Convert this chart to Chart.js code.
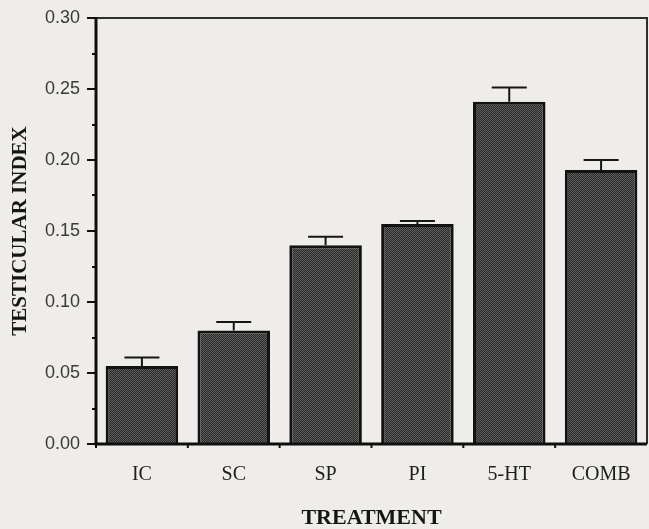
<!DOCTYPE html>
<html>
<head>
<meta charset="utf-8">
<script src="https://cdn.jsdelivr.net/npm/chart.js@4.4.1/dist/chart.umd.min.js"></script>
<style>
  html, body { margin: 0; padding: 0; background: #efede9; }
  #wrap { width: 649px; height: 529px; position: relative; }
</style>
</head>
<body>
<div id="wrap"><canvas id="chart"></canvas></div>
<script>
// Testicular index by treatment group (mean with upper error bar)
const categories = ['IC', 'SC', 'SP', 'PI', '5-HT', 'COMB'];
const meanIndex = [0.055, 0.080, 0.140, 0.155, 0.241, 0.193];
const errIndex = [0.006, 0.006, 0.006, 0.002, 0.010, 0.007];
const yTicks = [0.00, 0.05, 0.10, 0.15, 0.20, 0.25, 0.30];
const yMinorStep = 0.025;

// stippled dark fill for the bars
function stipple() {
  const c = document.createElement('canvas');
  c.width = 2; c.height = 2;
  const g = c.getContext('2d');
  g.fillStyle = '#282828'; g.fillRect(0, 0, 2, 2);
  g.fillStyle = '#606060'; g.fillRect(0, 0, 1, 1); g.fillRect(1, 1, 1, 1);
  return g.createPattern(c, 'repeat');
}

const background = {
  id: 'background',
  beforeDraw(chart) {
    const ctx = chart.ctx;
    ctx.save();
    ctx.fillStyle = '#efede9';
    ctx.fillRect(0, 0, chart.width, chart.height);
    ctx.restore();
  }
};

// frame, axis lines and tick marks
const frame = {
  id: 'frame',
  afterDatasetsDraw(chart) {
    const {ctx, chartArea: a, scales: {x, y}} = chart;
    ctx.save();
    // top and right border
    ctx.strokeStyle = '#2e2e2e';
    ctx.lineWidth = 2;
    ctx.beginPath();
    ctx.moveTo(a.left, a.top); ctx.lineTo(a.right, a.top); ctx.lineTo(a.right, a.bottom);
    ctx.stroke();
    // y tick marks: major outward, minor short
    ctx.strokeStyle = '#111';
    ctx.lineWidth = 2;
    const max = y.max;
    for (let v = 0; v <= max + 1e-9; v += yMinorStep) {
      const py = Math.round(y.getPixelForValue(v));
      const major = Math.abs(v / 0.05 - Math.round(v / 0.05)) < 1e-6;
      ctx.beginPath();
      ctx.moveTo(a.left, py);
      ctx.lineTo(a.left - (major ? 9 : 4), py);
      ctx.stroke();
    }
    // x tick marks between categories
    for (let i = 0; i <= categories.length - 1; i++) {
      const px = i === 0 ? a.left : (x.getPixelForTick(i - 1) + x.getPixelForTick(i)) / 2;
      ctx.beginPath();
      ctx.moveTo(px, a.bottom);
      ctx.lineTo(px, a.bottom + 4);
      ctx.stroke();
    }
    // left and bottom axis lines
    ctx.strokeStyle = '#0e0e0e';
    ctx.lineWidth = 3;
    ctx.beginPath();
    ctx.moveTo(a.left, a.top - 1); ctx.lineTo(a.left, a.bottom);
    ctx.lineTo(a.right, a.bottom);
    ctx.stroke();
    ctx.restore();
  }
};

// upper error bars
const errorBars = {
  id: 'errorBars',
  afterDatasetsDraw(chart) {
    const {ctx, scales: {y}} = chart;
    const meta = chart.getDatasetMeta(0);
    ctx.save();
    ctx.strokeStyle = '#161616';
    ctx.lineWidth = 2;
    meta.data.forEach((bar, i) => {
      const top = y.getPixelForValue(meanIndex[i]);
      const cap = y.getPixelForValue(meanIndex[i] + errIndex[i]);
      ctx.beginPath();
      ctx.moveTo(bar.x, top);
      ctx.lineTo(bar.x, cap);
      ctx.moveTo(bar.x - 17.5, cap);
      ctx.lineTo(bar.x + 17.5, cap);
      ctx.stroke();
    });
    ctx.restore();
  }
};

new Chart(document.getElementById('chart'), {
  type: 'bar',
  data: {
    labels: categories,
    datasets: [{
      data: meanIndex,
      backgroundColor: stipple(),
      borderColor: '#121212',
      borderWidth: 3,
      borderSkipped: 'bottom',
      barPercentage: 0.79,
      categoryPercentage: 1.0
    }]
  },
  options: {
    responsive: true,
    maintainAspectRatio: false,
    animation: false,
    layout: { padding: { top: 18, right: 2, left: 0, bottom: 0 } },
    plugins: { legend: { display: false }, tooltip: { enabled: false } },
    scales: {
      x: {
        grid: { display: false, drawTicks: false },
        border: { display: false },
        ticks: {
          color: '#1e1e1e',
          padding: 19,
          font: { family: '"Liberation Serif", "Times New Roman", serif', size: 20 }
        },
        title: {
          display: true,
          text: 'TREATMENT',
          color: '#151515',
          padding: { top: 0, bottom: 0 },
          font: { family: '"Liberation Serif", "Times New Roman", serif', size: 22, weight: 'bold', lineHeight: 1 }
        },
        afterFit(scale) {
          scale.height = 85;
          scale.paddingLeft = 0; scale.paddingRight = 0;
        }
      },
      y: {
        min: 0,
        max: 0.30,
        grid: { display: false, drawTicks: false },
        border: { display: false },
        afterBuildTicks(scale) { scale.ticks = yTicks.map(v => ({ value: v })); },
        ticks: {
          color: '#3a3a3a',
          padding: 16,
          font: { family: '"Liberation Sans", Arial, sans-serif', size: 18 },
          callback: v => Number(v).toFixed(2)
        },
        title: {
          display: true,
          text: 'TESTICULAR INDEX',
          color: '#151515',
          padding: { top: 10, bottom: 0 },
          font: { family: '"Liberation Serif", "Times New Roman", serif', size: 21, weight: 'bold', lineHeight: 1 }
        },
        afterFit(scale) {
          scale.width = 96;
          scale.paddingTop = 0; scale.paddingBottom = 0;
        }
      }
    }
  },
  plugins: [background, errorBars, frame]
});
</script>
</body>
</html>
